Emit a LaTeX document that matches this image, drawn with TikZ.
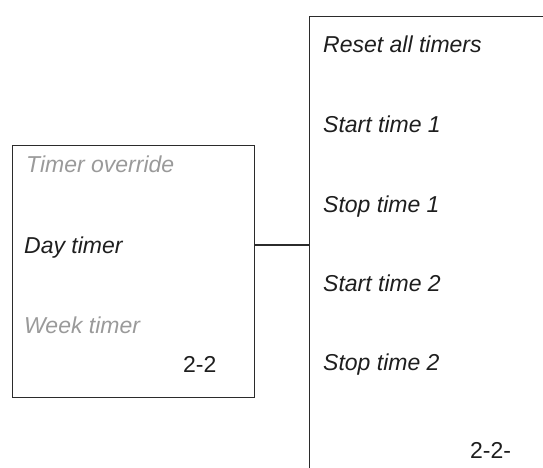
\documentclass[tikz,border=0pt]{standalone}
\usepackage{fontspec}
\setmainfont{Liberation Sans}
\usetikzlibrary{positioning}
\definecolor{dimtext}{HTML}{9A9A9A}
\definecolor{linecol}{HTML}{2B2B2B}
\definecolor{maintext}{HTML}{1E1E1E}

\begin{document}
\begin{tikzpicture}[x=1pt,y=-1pt,
    panel/.style={draw=linecol,line width=1.2pt,inner sep=0pt,anchor=north west},
    item/.style={anchor=base west,inner sep=0pt,font=\fontsize{23}{27}\selectfont\itshape,text=maintext},
    faded/.style={item,text=dimtext},
    pageno/.style={anchor=base west,inner sep=0pt,font=\fontsize{23}{27}\selectfont,text=maintext},
    wire/.style={draw=linecol,line width=1.2pt}
  ]
    \useasboundingbox (0,0) rectangle (543,467);
    \clip (0,0) rectangle (543,467);

    % left menu
    \node[panel,minimum width=242pt,minimum height=252pt] (daymenu) at (12,145) {};
    \node[faded] (tover) at (26,172) {Timer override};
    \node[item] (dayt) at (24,253) {Day timer};
    \node[faded] (weekt) at (24,333) {Week timer};
    \node[pageno] (lpage) at (183,372) {2-2};

    % right menu (runs off the page)
    \node[panel,minimum width=300pt,minimum height=520pt] (resetmenu) at (309,16) {};
    \node[item] (reset) at (323,52) {Reset all timers};
    \node[item] (start1) at (323,132) {Start time 1};
    \node[item] (stop1) at (323,212) {Stop time 1};
    \node[item] (start2) at (323,291) {Start time 2};
    \node[item] (stop2) at (323,370) {Stop time 2};
    \node[pageno] (rpage) at (470,458) {2-2-};

    % link
    \coordinate (link) at (280,245);
    \draw[wire] (daymenu.east |- link) -- (resetmenu.west |- link);
\end{tikzpicture}
\end{document}
